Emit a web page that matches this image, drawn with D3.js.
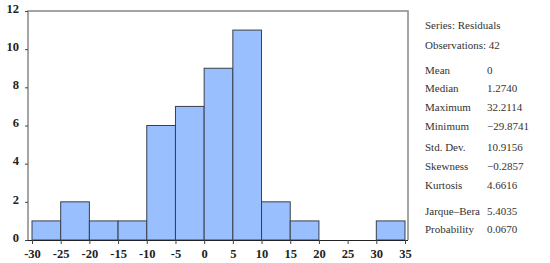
<!DOCTYPE html>
<html>
<head>
<meta charset="utf-8">
<script src="https://cdn.jsdelivr.net/npm/d3@7"></script>
<style>
  body { margin: 0; background: #fff; }
  svg { display: block; }
  .tick text { font-family: "Liberation Serif", serif; font-weight: bold; font-size: 12.5px; fill: #222; }
  .stats text { font-family: "Liberation Serif", serif; font-size: 11px; fill: #333; }
</style>
</head>
<body>
<script>
const binStarts = [-30, -25, -20, -15, -10, -5, 0, 5, 10, 15, 20, 25, 30];
const binWidth = 5;
const counts = [1, 2, 1, 1, 6, 7, 9, 11, 2, 1, 0, 0, 1];
const xTicks = [-30, -25, -20, -15, -10, -5, 0, 5, 10, 15, 20, 25, 30, 35];
const yTicks = [0, 2, 4, 6, 8, 10, 12];

const headerLines = ['Series: Residuals', 'Observations: 42'];
const statNames = ['Mean', 'Median', 'Maximum', 'Minimum', 'Std. Dev.', 'Skewness', 'Kurtosis', 'Jarque\u2013Bera', 'Probability'];
const statValues = ['0', '1.2740', '32.2114', '\u221229.8741', '10.9156', '\u22120.2857', '4.6616', '5.4035', '0.0670'];

const width = 550;
const height = 263;

const svg = d3.select('body')
  .append('svg')
  .attr('width', width)
  .attr('height', height);

const xScale = d3.scaleLinear()
  .domain([-30, 35])
  .range([32, 405]);

const yScale = d3.scaleLinear()
  .domain([0, 12])
  .range([240, 11]);

// frame
svg.append('path')
  .attr('d', `M28,240 V11 H408 V240`)
  .attr('fill', 'none')
  .attr('stroke', '#888')
  .attr('stroke-width', 1.5);

// bars
const bins = binStarts.map((x0, i) => ({ x0, x1: x0 + binWidth, n: counts[i] }))
  .filter(d => d.n > 0);

svg.append('g').selectAll('rect')
  .data(bins)
  .enter().append('rect')
  .attr('x', d => xScale(d.x0))
  .attr('y', d => yScale(d.n))
  .attr('width', d => xScale(d.x1) - xScale(d.x0))
  .attr('height', d => yScale(0) - yScale(d.n))
  .attr('fill', '#99bfff')
  .attr('stroke', '#3a3f4a')
  .attr('stroke-width', 1);

// x axis
const xAxis = d3.axisBottom(xScale)
  .tickValues(xTicks)
  .tickFormat(d => d < 0 ? '-' + Math.abs(d) : d)
  .tickSize(4)
  .tickSizeOuter(0);

const xg = svg.append('g')
  .attr('transform', 'translate(0,240)')
  .call(xAxis);
xg.select('.domain').attr('stroke', '#222').attr('d', 'M28,0.5H408');
xg.selectAll('.tick line').attr('stroke', '#444');
xg.selectAll('.tick text').attr('dy', '0.85em');

// y axis
const yAxis = d3.axisLeft(yScale)
  .tickValues(yTicks)
  .tickSize(3)
  .tickSizeOuter(0);

const yg = svg.append('g')
  .attr('transform', 'translate(28,0)')
  .call(yAxis);
yg.select('.domain').remove();
yg.selectAll('.tick line').attr('stroke', '#444');
yg.selectAll('.tick text').attr('x', -9).attr('dy', '0.1em');

// stats panel
const stats = svg.append('g').attr('class', 'stats');

stats.selectAll('.header')
  .data(headerLines)
  .enter().append('text')
  .attr('class', 'header')
  .attr('x', 425)
  .attr('y', (d, i) => 28.5 + i * 20)
  .text(d => d);

const rowY = [73.5, 91.5, 110.5, 129.5, 150.5, 169.5, 188.5, 214.5, 232.5];

stats.selectAll('.name')
  .data(statNames)
  .enter().append('text')
  .attr('class', 'name')
  .attr('x', 425)
  .attr('y', (d, i) => rowY[i])
  .text(d => d);

stats.selectAll('.value')
  .data(statValues)
  .enter().append('text')
  .attr('class', 'value')
  .attr('x', 487)
  .attr('y', (d, i) => rowY[i])
  .text(d => d);
</script>
</body>
</html>
